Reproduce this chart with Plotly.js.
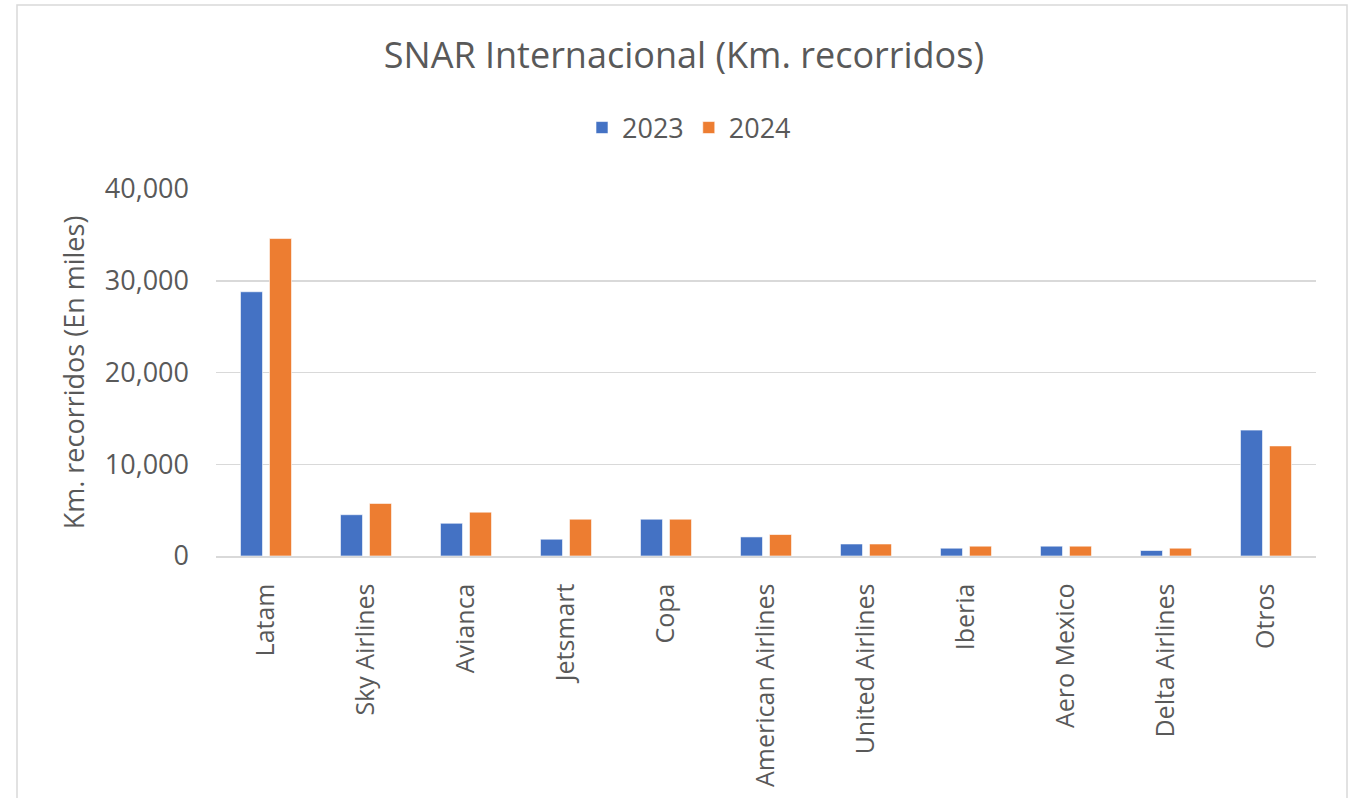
<!DOCTYPE html>
<html>
<head>
<meta charset="utf-8">
<script src="https://cdn.plot.ly/plotly-3.0.1.min.js"></script>
<style>
html,body{margin:0;padding:0;background:#fff;}
#chart{width:1357px;height:798px;}
</style>
</head>
<body>
<div id="chart"></div>
<script>
const categories = ["Latam","Sky Airlines","Avianca","Jetsmart","Copa","American Airlines","United Airlines","Iberia","Aero Mexico","Delta Airlines","Otros"];
const values2023 = [28800, 4500, 3570, 1830, 4010, 2080, 1310, 850, 1070, 600, 13720];
const values2024 = [34600, 5730, 4780, 4010, 4010, 2340, 1310, 1070, 1070, 850, 12000];
const seriesNames = ["2023","2024"];
const yTicks = [0, 10000, 20000, 30000, 40000];
const yTickLabels = ["0","10,000","20,000","30,000","40,000"];

const FONT = "Open Sans, Lato, DejaVu Sans, sans-serif";
const GREY = "#595959";

const traces = [
  {type:"bar", name:seriesNames[0], x:categories, y:values2023, marker:{color:"#4472C4", line:{color:"#ffffff", width:0.6}}},
  {type:"bar", name:seriesNames[1], x:categories, y:values2024, marker:{color:"#ED7D31", line:{color:"#ffffff", width:0.6}}}
];

const layout = {
  width:1357, height:798,
  margin:{l:216, r:41, t:189, b:242},
  paper_bgcolor:"#ffffff", plot_bgcolor:"#ffffff",
  font:{family:FONT, color:GREY},
  barmode:"group", bargap:0.42, bargroupgap:0.24,
  title:{text:"SNAR Internacional (Km. recorridos)", font:{size:36, color:GREY, family:FONT}, x:0.504, xanchor:"center", y:1-55/798, yanchor:"middle", yref:"container"},
  showlegend:true,
  legend:{orientation:"h", x:0.43, xanchor:"center", y:(556-128)/367, yanchor:"middle", font:{size:27, color:GREY}, itemwidth:30, traceorder:"normal"},
  xaxis:{type:"category", tickangle:-90, tickfont:{size:25, color:GREY}, showgrid:false, showline:true, linecolor:"#d9d9d9", linewidth:1.5, ticks:"", ticklabelstandoff:16, fixedrange:true},
  yaxis:{range:[0,40000], tickvals:yTicks, ticktext:yTickLabels, tickfont:{size:27, color:GREY}, showgrid:true, gridcolor:"#d9d9d9", gridwidth:1.5, zeroline:false, showline:false, ticks:"", ticklabelstandoff:26,
         title:{text:"Km. recorridos (En miles)", font:{size:27, color:GREY}, standoff:12}, fixedrange:true},
  shapes:[{type:"rect", xref:"paper", yref:"paper", x0:(17-216)/1100, x1:(1347-216)/1100, y0:(556-820)/367, y1:(556-5)/367, line:{color:"#d9d9d9", width:1.5}, fillcolor:"rgba(0,0,0,0)", layer:"below"}]
};

Plotly.newPlot("chart", traces, layout, {displayModeBar:false, staticPlot:true});
</script>
</body>
</html>
